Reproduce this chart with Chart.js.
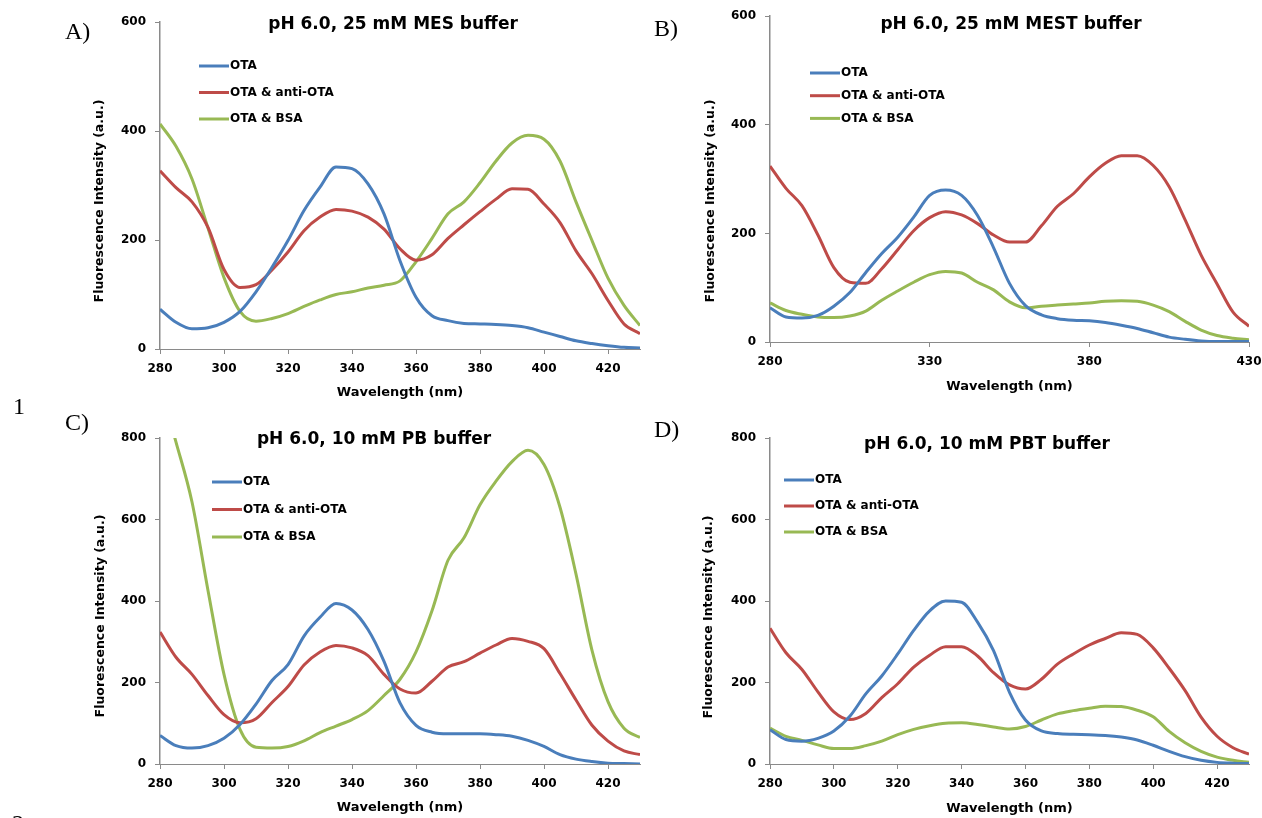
<!DOCTYPE html>
<html>
<head>
<meta charset="utf-8">
<title>OTA fluorescence spectra</title>
<script src="https://cdn.jsdelivr.net/npm/chart.js@4.4.1/dist/chart.umd.min.js"></script>
<style>
    html, body { margin: 0; padding: 0; background: #fff; }
    #page { position: relative; width: 1262px; height: 818px; overflow: hidden; }
    #page canvas { position: absolute; }
    .tag { position: absolute; font-family: 'Liberation Serif', 'Times New Roman', serif; font-size: 24px; line-height: 24px; color: #000; }
</style>
</head>
<body>
<div id="page">
    <canvas id="chartA"></canvas>
    <canvas id="chartB"></canvas>
    <canvas id="chartC"></canvas>
    <canvas id="chartD"></canvas>
    <div class="tag" style="left:65px;top:19px">A)</div>
    <div class="tag" style="left:654px;top:16px">B)</div>
    <div class="tag" style="left:65px;top:410px">C)</div>
    <div class="tag" style="left:654px;top:417px">D)</div>
    <div class="tag" style="left:13px;top:394px">1</div>
    <div class="tag" style="left:12px;top:811px">2</div>
</div>
<script>
// Emission wavelengths (nm), shared by every spectrum
const wavelengths = [280, 285, 290, 295, 300, 305, 310, 315, 320, 325, 330, 335, 340, 345, 350, 355,
    360, 365, 370, 375, 380, 385, 390, 395, 400, 405, 410, 415, 420, 425, 430];

const seriesNames = ['OTA', 'OTA & anti-OTA', 'OTA & BSA'];
const seriesColors = ['#4a7ebb', '#be4b48', '#98b954'];

// A) 25 mM MES
const mesOta  = [73, 49, 37, 39, 49, 69, 105, 150, 199, 254, 297, 334, 331, 303, 248, 162, 95, 61, 52, 47, 46, 45, 43, 39, 31, 23, 15, 10, 6, 3, 2];
const mesAnti = [327, 296, 270, 223, 146, 113, 118, 145, 178, 217, 242, 256, 253, 242, 220, 184, 163, 173, 203, 228, 252, 275, 294, 293, 266, 232, 180, 138, 89, 46, 28];
const mesBsa  = [413, 372, 312, 222, 131, 69, 51, 56, 65, 78, 90, 100, 105, 112, 117, 125, 160, 203, 248, 270, 305, 345, 378, 392, 385, 345, 270, 199, 130, 80, 43];

// B) 25 mM MEST
const mestOta  = [63, 46, 44, 49, 66, 91, 128, 163, 193, 230, 270, 280, 270, 233, 174, 108, 67, 50, 43, 40, 39, 36, 31, 25, 17, 9, 5, 2, 1, 1, 1];
const mestAnti = [324, 283, 251, 197, 137, 110, 108, 135, 170, 205, 229, 240, 234, 218, 197, 184, 184, 214, 250, 273, 304, 329, 343, 343, 325, 286, 225, 160, 107, 55, 29];
const mestBsa  = [72, 58, 51, 46, 45, 48, 57, 77, 94, 110, 124, 130, 127, 110, 96, 74, 63, 66, 68, 70, 72, 75, 76, 75, 68, 56, 38, 22, 12, 7, 4];

// C) 10 mM PB
const pbOta  = [70, 45, 39, 45, 63, 97, 147, 205, 244, 314, 360, 394, 378, 330, 252, 150, 95, 78, 74, 74, 74, 72, 68, 58, 43, 23, 12, 6, 2, 1, 0];
const pbAnti = [324, 262, 220, 168, 121, 101, 111, 151, 190, 243, 275, 291, 285, 266, 220, 184, 174, 203, 238, 251, 272, 292, 308, 301, 283, 222, 157, 95, 56, 32, 23];
const pbBsa  = [930, 790, 643, 426, 220, 85, 41, 39, 43, 57, 77, 93, 109, 131, 168, 208, 275, 376, 500, 555, 636, 694, 742, 770, 735, 630, 466, 279, 153, 88, 65];

// D) 10 mM PBT
const pbtOta  = [84, 60, 56, 63, 81, 117, 172, 216, 270, 328, 376, 400, 397, 348, 278, 176, 108, 81, 75, 73, 72, 70, 66, 59, 46, 31, 18, 9, 4, 2, 1];
const pbtAnti = [333, 273, 232, 177, 128, 109, 124, 163, 197, 238, 267, 288, 288, 265, 224, 194, 184, 208, 245, 270, 292, 308, 322, 318, 285, 235, 180, 115, 68, 40, 24];
const pbtBsa  = [88, 68, 58, 47, 38, 38, 45, 56, 72, 85, 94, 100, 101, 97, 91, 86, 92, 108, 123, 131, 137, 142, 141, 132, 116, 80, 52, 31, 17, 9, 4];

const xTicksStd = 20;     // A, C, D
const xTicksMest = 50;    // B
const yTicksStep = 200;

const FONT = '"DejaVu Sans", Verdana, sans-serif';
const AXIS_GREY = '#8a8a8a';

// heading, y-axis title and the in-plot legend
const panelText = {
    id: 'panelText',
    afterDatasetsDraw(chart, args, opts) {
        const ctx = chart.ctx;
        const dx = opts.left, dy = opts.top;
        ctx.save();
        ctx.fillStyle = '#000';
        ctx.textBaseline = 'middle';

        ctx.font = 'bold 17px ' + FONT;
        ctx.textAlign = 'center';
        ctx.fillText(opts.title, opts.titleX - dx, opts.titleY - dy);

        ctx.save();
        ctx.translate(opts.yTitleX - dx, opts.yTitleY - dy);
        ctx.rotate(-Math.PI / 2);
        ctx.font = 'bold 12.5px ' + FONT;
        ctx.fillText('Fluorescence Intensity (a.u.)', 0, 0);
        ctx.restore();

        ctx.font = 'bold 12px ' + FONT;
        ctx.textAlign = 'left';
        chart.data.datasets.forEach((ds, i) => {
            const x = opts.legendX - dx;
            const y = opts.legendY - dy + i * opts.legendStep;
            ctx.strokeStyle = ds.borderColor;
            ctx.lineWidth = 3;
            ctx.beginPath();
            ctx.moveTo(x, y);
            ctx.lineTo(x + 30, y);
            ctx.stroke();
            ctx.fillText(ds.label, x + 31, y);
        });
        ctx.restore();
    }
};

function buildPanel(p) {
    const canvas = document.getElementById(p.id);
    const box = p.box, area = p.area;
    canvas.width = box.width;
    canvas.height = box.height;
    canvas.style.left = box.left + 'px';
    canvas.style.top = box.top + 'px';

    const yWidth = 60;
    const xHeight = box.top + box.height - area.bottom;
    const xTitleSize = 13;
    const xTitlePad = box.top + box.height - p.xTitleY - xTitleSize * 1.2 / 2;

    const tickFont = { family: FONT, size: 12, weight: 'bold' };

    return new Chart(canvas, {
        type: 'line',
        data: {
            datasets: p.series.map((vals, i) => ({
                label: seriesNames[i],
                data: wavelengths.map((w, k) => ({ x: w, y: vals[k] })),
                borderColor: seriesColors[i],
                borderWidth: 3,
                pointRadius: 0,
                cubicInterpolationMode: 'monotone',
                fill: false
            }))
        },
        options: {
            responsive: false,
            animation: false,
            devicePixelRatio: 1,
            layout: {
                padding: {
                    left: area.left - box.left - yWidth,
                    right: box.left + box.width - area.right,
                    top: area.top - box.top,
                    bottom: 0
                }
            },
            plugins: {
                legend: { display: false },
                tooltip: { enabled: false },
                panelText: Object.assign({ left: box.left, top: box.top }, p.text)
            },
            scales: {
                x: {
                    type: 'linear',
                    min: 280,
                    max: 430,
                    afterFit: (scale) => { scale.height = xHeight; },
                    border: { display: true, color: AXIS_GREY, width: 1 },
                    grid: { display: true, drawOnChartArea: false, drawTicks: true, tickLength: 5, color: AXIS_GREY },
                    ticks: { stepSize: p.xStep, includeBounds: false, padding: 8, color: '#000', font: tickFont, maxRotation: 0 },
                    title: {
                        display: true,
                        text: 'Wavelength (nm)',
                        color: '#000',
                        font: { family: FONT, size: xTitleSize, weight: 'bold' },
                        padding: { top: 0, bottom: xTitlePad }
                    }
                },
                y: {
                    min: 0,
                    max: p.yMax,
                    afterFit: (scale) => { scale.width = yWidth; },
                    border: { display: true, color: AXIS_GREY, width: 1.5 },
                    grid: { display: true, drawOnChartArea: false, drawTicks: true, tickLength: 5, color: AXIS_GREY },
                    ticks: { stepSize: yTicksStep, padding: 9, color: '#000', font: tickFont }
                }
            }
        },
        plugins: [panelText]
    });
}

buildPanel({
    id: 'chartA',
    box: { left: 0, top: 0, width: 660, height: 410 },
    area: { left: 160, right: 640, top: 22, bottom: 349 },
    xStep: xTicksStd, yMax: 600, xTitleY: 393,
    series: [mesOta, mesAnti, mesBsa],
    text: { title: 'pH 6.0, 25 mM MES buffer', titleX: 393, titleY: 25, yTitleX: 100, yTitleY: 201,
            legendX: 199, legendY: 66, legendStep: 26.5 }
});

buildPanel({
    id: 'chartB',
    box: { left: 640, top: 0, width: 640, height: 400 },
    area: { left: 770, right: 1249, top: 13, bottom: 342 },
    xStep: xTicksMest, yMax: 600, xTitleY: 387,
    series: [mestOta, mestAnti, mestBsa],
    text: { title: 'pH 6.0, 25 mM MEST buffer', titleX: 1011, titleY: 25, yTitleX: 711, yTitleY: 201,
            legendX: 810, legendY: 73, legendStep: 22.7 }
});

buildPanel({
    id: 'chartC',
    box: { left: 0, top: 400, width: 660, height: 418 },
    area: { left: 160, right: 640, top: 438, bottom: 764 },
    xStep: xTicksStd, yMax: 800, xTitleY: 808,
    series: [pbOta, pbAnti, pbBsa],
    text: { title: 'pH 6.0, 10 mM PB buffer', titleX: 374, titleY: 440, yTitleX: 101, yTitleY: 616,
            legendX: 212, legendY: 482, legendStep: 27.5 }
});

buildPanel({
    id: 'chartD',
    box: { left: 640, top: 400, width: 640, height: 418 },
    area: { left: 770, right: 1249, top: 438, bottom: 764 },
    xStep: xTicksStd, yMax: 800, xTitleY: 809,
    series: [pbtOta, pbtAnti, pbtBsa],
    text: { title: 'pH 6.0, 10 mM PBT buffer', titleX: 987, titleY: 445, yTitleX: 709, yTitleY: 617,
            legendX: 784, legendY: 480, legendStep: 26 }
});
</script>
</body>
</html>
